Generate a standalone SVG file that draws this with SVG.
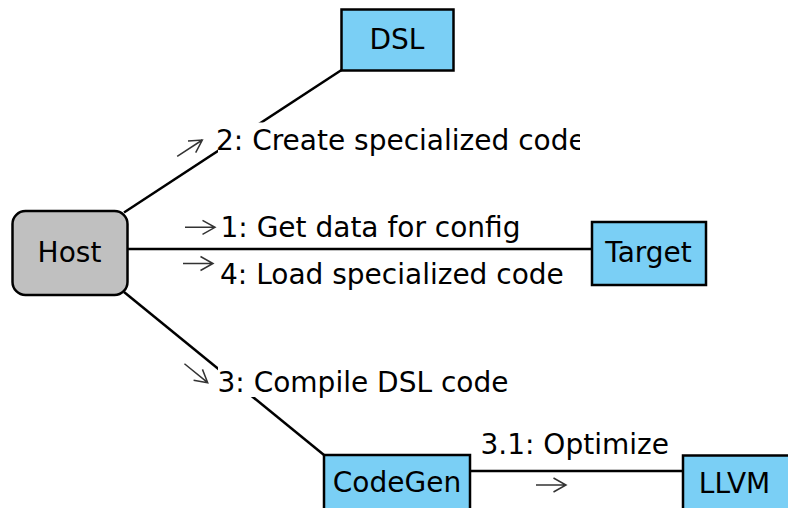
<svg xmlns="http://www.w3.org/2000/svg" xmlns:xlink="http://www.w3.org/1999/xlink" width="788" height="508" viewBox="0 0 788 508">
<style>
.box{fill:#7acff5;stroke:#000;stroke-width:2.5}
.host{fill:#c0c0c0;stroke:#000;stroke-width:2.5}
.lbl{font-family:"DejaVu Sans",sans-serif;font-size:28px;fill:#000}
.nt{font-family:"DejaVu Sans",sans-serif;font-size:28px;fill:#000;text-anchor:middle}
.ln{stroke:#000;stroke-width:2.5;fill:none}
.bg{fill:#fff;stroke:none}
.ar{stroke:#333;stroke-width:1.5;fill:none}
</style>
<defs>
<path id="arr" class="ar" d="M-30,0 H0 M-12.5,-7 L0,0 L-12.5,7"/>
<clipPath id="c2"><rect x="0" y="0" width="580" height="508"/></clipPath>
</defs>
<g id="connectors">
<line class="ln" x1="124" y1="212.5" x2="341.5" y2="70"/>
<line class="ln" x1="128" y1="249" x2="592" y2="249"/>
<line class="ln" x1="124" y1="292" x2="324" y2="455"/>
<line class="ln" x1="470" y1="471" x2="683" y2="471"/>
<rect class="bg" x="218" y="122.5" width="362" height="32"/>
<rect class="bg" x="218" y="365" width="292" height="32"/>
<g clip-path="url(#c2)"><text class="lbl" x="216" y="149.5">2: Create specialized code</text></g>
<use xlink:href="#arr" transform="translate(202.3,140) rotate(-33.2)"/>
<text class="lbl" x="220.5" y="237">1: Get data for config</text>
<use xlink:href="#arr" transform="translate(215,227.3)"/>
<text class="lbl" x="220" y="283.5">4: Load specialized code</text>
<use xlink:href="#arr" transform="translate(213,263.5)"/>
<text class="lbl" x="217.5" y="392">3: Compile DSL code</text>
<use xlink:href="#arr" transform="translate(207.7,382.7) rotate(39.2)"/>
<text class="lbl" x="480.5" y="454">3.1: Optimize</text>
<use xlink:href="#arr" transform="translate(566,485)"/>
</g>
<g id="DSL">
<rect class="box" x="341.5" y="9.5" width="112" height="61"/>
<text class="nt" x="397" y="48.5">DSL</text>
</g>
<g id="Host">
<rect class="host" x="12.5" y="211" width="115" height="84" rx="13"/>
<text class="nt" x="69.5" y="262.3">Host</text>
</g>
<g id="Target">
<rect class="box" x="592" y="222" width="114" height="63"/>
<text class="nt" x="648.5" y="262.3">Target</text>
</g>
<g id="CodeGen">
<rect class="box" x="324" y="455" width="146" height="70"/>
<text class="nt" x="397" y="492.3">CodeGen</text>
</g>
<g id="LLVM">
<rect class="box" x="683" y="455.5" width="115" height="70"/>
<text class="nt" x="734.5" y="492.7">LLVM</text>
</g>
</svg>
